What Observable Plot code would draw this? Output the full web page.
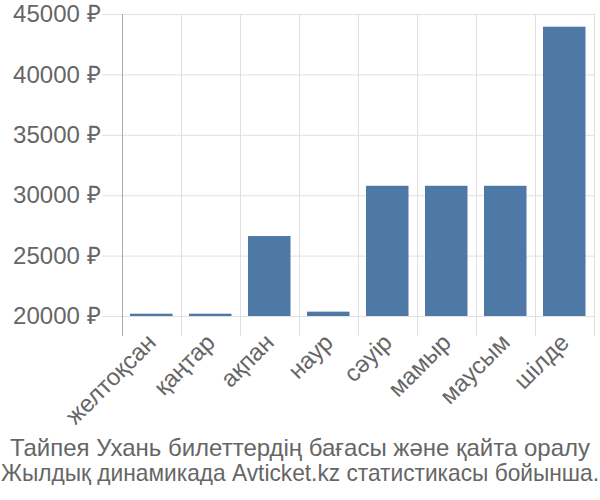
<!DOCTYPE html>
<html>
<head>
<meta charset="utf-8">
<script src="https://cdn.jsdelivr.net/npm/d3@7"></script>
<script src="https://cdn.jsdelivr.net/npm/@observablehq/plot@0.6"></script>
<style>
  body { margin: 0; background: #fff; }
  #chart { width: 600px; }
  .caption { width: 600px; color: #666; font-family: "Liberation Sans", Arial, sans-serif; font-size: 24px; line-height: 25px; margin-top: 10px; white-space: nowrap; }
  .caption .line { width: 600px; display: flex; justify-content: center; }
  .caption span { display: inline-block; flex: none; transform-origin: center; }
</style>
</head>
<body>
<div id="chart"></div>
<script>
const months = ["желтоқсан", "қаңтар", "ақпан", "наур", "сәуір", "мамыр", "маусым", "шілде"];
const prices = [20190, 20190, 26620, 20360, 30780, 30780, 30780, 43950];
const yTicks = [20000, 25000, 30000, 35000, 40000, 45000];
const baseline = 20000;
const captionLines = [
  "Тайпея Ухань билеттердің бағасы және қайта оралу",
  "Жылдық динамикада Avticket.kz статистикасы бойынша."
];

const data = months.map((m, i) => ({i, month: m, price: prices[i]}));
const edges = d3.range(months.length + 1);
const centers = data.map(d => d.i + 0.5);

const chart = Plot.plot({
  width: 600,
  height: 425,
  marginLeft: 122,
  marginRight: 6,
  marginTop: 14,
  marginBottom: 109,
  style: {fontFamily: "'Liberation Sans', Arial, sans-serif", fontSize: "24px", color: "#666", background: "#fff"},
  x: {type: "linear", domain: [0, months.length], axis: null},
  y: {domain: [baseline, 45000], axis: null},
  marks: [
    Plot.gridY(yTicks, {stroke: "#e0e0e0", strokeOpacity: 1}),
    Plot.ruleX(edges.slice(1), {x: d => d, stroke: "#e0e0e0", insetBottom: -20}),
    Plot.axisY(yTicks, {tickSize: 20, tickPadding: 2, stroke: "#e0e0e0", fill: "#666", fontSize: 24, tickFormat: d => d + " ₽", label: null}),
    Plot.rect(data, {x1: "i", x2: d => d.i + 1, y1: () => baseline, y2: "price", fill: "#4e79a7", insetLeft: 8, insetRight: 8.5}),
    Plot.ruleX([0], {x: d => d, stroke: "#aaa", insetBottom: -20}),
    Plot.axisX(centers, {tickSize: 0, tickPadding: 22, tickRotate: -45, fill: "#666", fontSize: 24, tickFormat: v => months[Math.floor(v)], label: null})
  ]
});
document.getElementById("chart").appendChild(chart);
const cap = document.createElement("div");
cap.className = "caption";
document.body.appendChild(cap);
for (const t of captionLines) {
  const line = document.createElement("div");
  line.className = "line";
  const span = document.createElement("span");
  span.textContent = t;
  line.appendChild(span);
  cap.appendChild(line);
  const w = span.getBoundingClientRect().width;
  if (w > 598) span.style.transform = `scaleX(${598 / w})`;
}
</script>
</body>
</html>
